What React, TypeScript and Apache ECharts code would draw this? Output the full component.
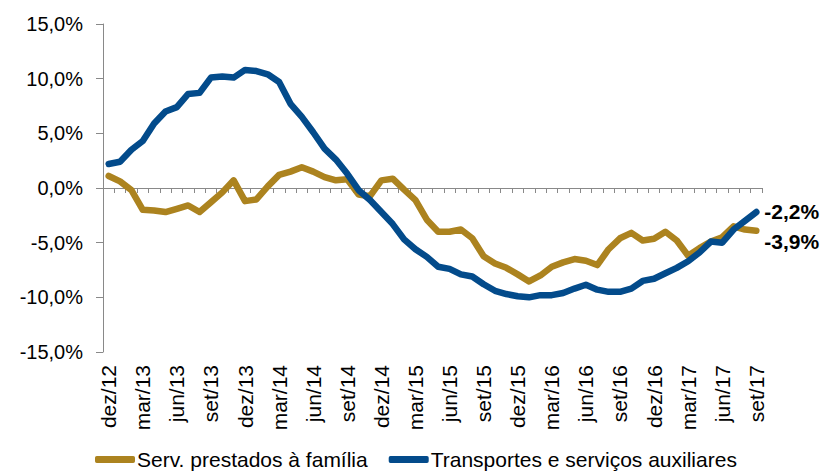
import React, { useEffect, useRef } from "react";
import * as echarts from "echarts";

const categories = [
  "dez/12",
  "jan/13", "fev/13", "mar/13", "abr/13", "mai/13", "jun/13", "jul/13", "ago/13", "set/13", "out/13", "nov/13", "dez/13",
  "jan/14", "fev/14", "mar/14", "abr/14", "mai/14", "jun/14", "jul/14", "ago/14", "set/14", "out/14", "nov/14", "dez/14",
  "jan/15", "fev/15", "mar/15", "abr/15", "mai/15", "jun/15", "jul/15", "ago/15", "set/15", "out/15", "nov/15", "dez/15",
  "jan/16", "fev/16", "mar/16", "abr/16", "mai/16", "jun/16", "jul/16", "ago/16", "set/16", "out/16", "nov/16", "dez/16",
  "jan/17", "fev/17", "mar/17", "abr/17", "mai/17", "jun/17", "jul/17", "ago/17", "set/17",
];

const servFamilia = [
  1.1, 0.6, -0.2, -2.0, -2.05, -2.2, -1.9, -1.6, -2.2, -1.3, -0.4, 0.7, -1.2,
  -1.05, 0.15, 1.2, 1.5, 1.9, 1.5, 1.0, 0.7, 0.8, -0.6, -0.75, 0.7,
  0.85, -0.15, -1.1, -2.9, -4.0, -4.0, -3.8, -4.6, -6.25, -6.9, -7.3, -7.9,
  -8.55, -8.0, -7.2, -6.8, -6.5, -6.65, -7.05, -5.6, -4.6, -4.1, -4.8, -4.65,
  -4.0, -4.8, -6.2, -5.5, -4.9, -4.5, -3.5, -3.8, -3.9,
];

const transportes = [
  2.2, 2.4, 3.5, 4.3, 5.9, 7.0, 7.4, 8.6, 8.7, 10.1, 10.2, 10.1, 10.8,
  10.7, 10.4, 9.7, 7.7, 6.5, 5.1, 3.6, 2.6, 1.3, -0.2, -1.1, -2.2,
  -3.3, -4.7, -5.6, -6.3, -7.2, -7.4, -7.9, -8.1, -8.8, -9.4, -9.7, -9.9,
  -10.0, -9.8, -9.8, -9.6, -9.2, -8.85, -9.3, -9.5, -9.5, -9.2, -8.5, -8.3,
  -7.8, -7.3, -6.7, -5.9, -4.9, -5.0, -3.8, -3.0, -2.2,
];

const seriesNames = ["Serv. prestados à família", "Transportes e serviços auxiliares"];
const colors = ["#AC831F", "#034B8B"];

const FONT = "'Liberation Sans', Arial, sans-serif";
const fmt = (v: number) => v.toFixed(1).replace(".", ",") + "%";

export default function App() {
  const ref = useRef<HTMLDivElement>(null);
  useEffect(() => {
    if (!ref.current) return;
    const chart = echarts.init(ref.current, undefined, { renderer: "svg" });
    const endLabel = (offsetY: number) => ({
      show: true,
      distance: 8,
      offset: [0, offsetY],
      formatter: (p: any) => fmt(Number(p.value)),
      fontSize: 21,
      fontWeight: "bold",
      color: "#000",
      fontFamily: FONT,
    });
    chart.setOption({
      animation: false,
      textStyle: { fontFamily: FONT },
      grid: { left: 103, right: 65, top: 24, bottom: 120, containLabel: false },
      legend: {
        data: seriesNames,
        left: 95,
        top: 449,
        padding: 0,
        icon: "roundRect",
        itemWidth: 40,
        itemHeight: 7,
        itemGap: 21,
        textStyle: { fontSize: 21, color: "#000", fontFamily: FONT, padding: [0, 0, 0, -3] },
      },
      xAxis: [
        {
          type: "category",
          data: categories,
          boundaryGap: true,
          axisLine: { show: true, onZero: true, lineStyle: { color: "#898989", width: 1 } },
          axisTick: { show: true, interval: 0, length: 5, inside: false, lineStyle: { color: "#898989" } },
          axisLabel: { show: false },
          splitLine: { show: false },
        },
        {
          type: "category",
          data: categories,
          position: "bottom",
          boundaryGap: true,
          axisLine: { show: false, onZero: false },
          axisTick: { show: false },
          axisLabel: {
            show: true,
            interval: 2,
            rotate: 90,
            margin: 13,
            fontSize: 21,
            color: "#000",
            fontFamily: FONT,
          },
          splitLine: { show: false },
        },
      ],
      yAxis: {
        type: "value",
        min: -15,
        max: 15,
        interval: 5,
        axisLine: { show: true, lineStyle: { color: "#898989", width: 1 } },
        axisTick: { show: true, length: 7, inside: false, lineStyle: { color: "#898989" } },
        axisLabel: {
          formatter: (v: number) => fmt(v),
          fontSize: 20,
          color: "#000",
          margin: 20,
          fontFamily: FONT,
        },
        splitLine: { show: false },
      },
      series: [
        {
          name: seriesNames[0],
          type: "line",
          xAxisIndex: 0,
          data: servFamilia,
          symbol: "none",
          color: colors[0],
          lineStyle: { width: 6.5, color: colors[0], cap: "round", join: "round" },
          endLabel: endLabel(11),
          z: 2,
        },
        {
          name: seriesNames[1],
          type: "line",
          xAxisIndex: 0,
          data: transportes,
          symbol: "none",
          color: colors[1],
          lineStyle: { width: 6.5, color: colors[1], cap: "round", join: "round" },
          endLabel: endLabel(-1),
          z: 3,
        },
      ],
    });
    return () => chart.dispose();
  }, []);
  return (
    <div
      ref={ref}
      style={{ position: "fixed", left: 0, top: 0, width: 827, height: 472, background: "#fff" }}
    />
  );
}
